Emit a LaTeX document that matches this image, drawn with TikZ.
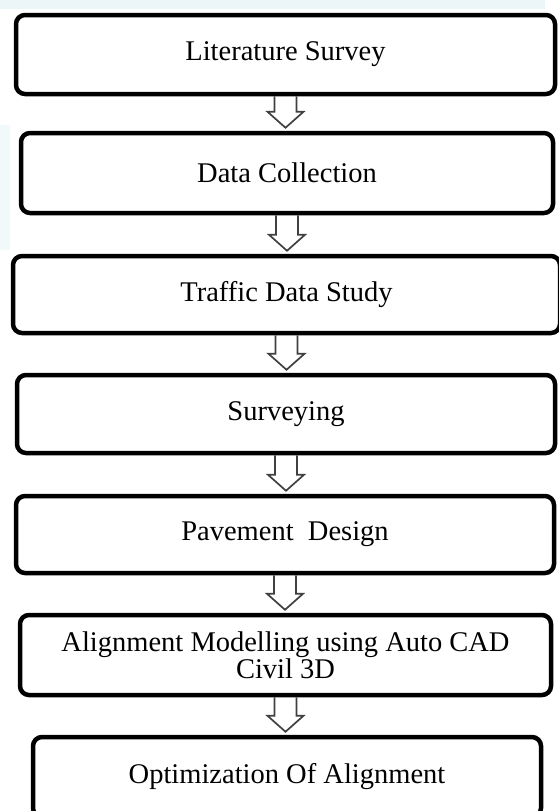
\documentclass[tikz,border=0pt]{standalone}
\usepackage{fontspec}
\setmainfont{Liberation Serif}
\usepackage{tikz}
\usetikzlibrary{calc}
\usepackage{xcolor}

\definecolor{markblue}{RGB}{236,246,249}

\newcommand{\flowarrow}[2]{%
  \coordinate (tip) at ($(#1.south |- #2.north)+(0,-3)$);
  \draw[flowarrow] ($(#1.south)+(-11,0)$) -- ($(tip)+(-11,-16)$) -- ($(tip)+(-18,-16)$)
    -- (tip) -- ($(tip)+(18,-16)$) -- ($(tip)+(11,-16)$) -- ($(#1.south)+(11,0)$);}

\begin{document}
\begin{tikzpicture}[x=1pt, y=-1pt,
  box/.style={draw, line width=4.5pt, rounded corners=9pt, fill=white,
    inner sep=0pt, align=center, font=\fontsize{28.5}{25}\selectfont},
  flowarrow/.style={draw=black!75, line width=1.7pt, line join=miter},
  ]
  \useasboundingbox (0,0) rectangle (558,811);
  \fill[white] (0,0) rectangle (558,811);
  \fill[markblue] (0,0) rectangle (545,9);
  \fill[markblue!70] (0,125) rectangle (10,250);

  \node[box, minimum width=539pt, minimum height=79pt] (survey) at (285.5,54.5) {Literature Survey};
  \node[box, minimum width=532pt, minimum height=80pt] (collection) at (287,173) {Data Collection};
  \node[box, minimum width=547pt, minimum height=77pt] (traffic) at (286.5,294.5) {Traffic Data Study};
  \node[box, minimum width=538pt, minimum height=78pt] (surveying) at (286,414) {Surveying};
  \node[box, minimum width=538pt, minimum height=77pt] (pavement) at (285,534.5) {Pavement~~Design};
  \node[box, minimum width=531pt, minimum height=80pt] (modelling) at (285.5,655) {Alignment Modelling using Auto CAD\\Civil 3D};
  \node[box, minimum width=508pt, minimum height=80pt] (optimize) at (287,777) {Optimization Of Alignment};

  \foreach \a/\b in {survey/collection, collection/traffic, traffic/surveying,
    surveying/pavement, pavement/modelling, modelling/optimize}
    \flowarrow{\a}{\b};

\end{tikzpicture}
\end{document}
